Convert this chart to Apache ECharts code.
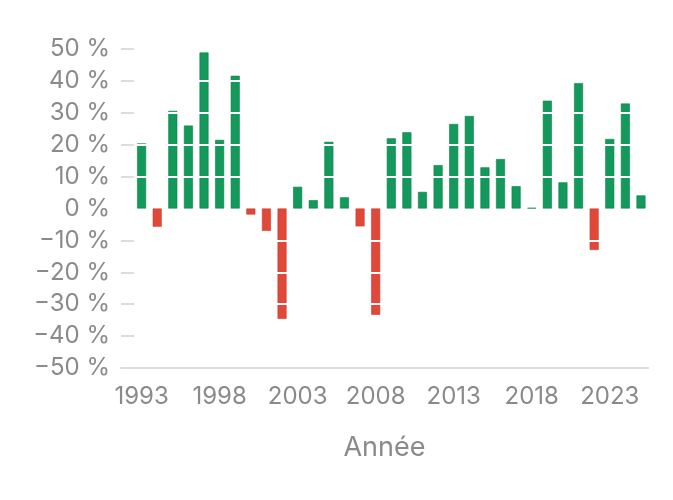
<!DOCTYPE html>
<html>
<head>
<meta charset="utf-8">
<script src="https://cdn.jsdelivr.net/npm/echarts@6/dist/echarts.min.js"></script>
<style>html,body{margin:0;padding:0;background:#fff}#c{width:673px;height:500px}</style>
</head>
<body>
<div id="c"></div>
<script>
const years = [1993,1994,1995,1996,1997,1998,1999,2000,2001,2002,2003,2004,2005,2006,2007,2008,2009,2010,2011,2012,2013,2014,2015,2016,2017,2018,2019,2020,2021,2022,2023,2024,2025];
const returns = [20.4,-5.7,30.6,26.0,48.9,21.5,41.6,-1.9,-7.0,-34.6,6.8,2.6,20.9,3.5,-5.6,-33.3,22.0,23.9,5.2,13.6,26.5,29.0,12.9,15.5,7.0,0.2,33.8,8.2,39.3,-13.0,21.8,32.9,4.1];
const xTickLabels = [1993,1998,2003,2008,2013,2018,2023];
const yTicks = [-40,-30,-20,-10,10,20,30,40,50];

const GREEN = '#13995b', GREEN_B = '#0f8048';
const RED = '#e0483a', RED_B = '#c73d30';
const FONT = 'Inter';
const GREY = '#8a8a8a';

const chart = echarts.init(document.getElementById('c'), null, {renderer:'canvas'});
chart.setOption({
  animation: false,
  grid: {left: 121, right: 25, top: 49, bottom: 132, containLabel: false},
  xAxis: {
    type: 'value',
    min: 1991.68, max: 2025.45,
    z: 12,
    name: 'Année',
    nameLocation: 'middle',
    nameGap: 66,
    nameTextStyle: {fontFamily: FONT, fontSize: 27, color: GREY},
    axisLine: {show: true, onZero: false, lineStyle: {color: '#dcdcdc', width: 2}},
    axisTick: {show: false},
    splitLine: {show: false},
    axisLabel: {
      customValues: xTickLabels,
      fontFamily: FONT, fontSize: 24, color: GREY, margin: 17,
      formatter: v => String(v)
    }
  },
  yAxis: {
    type: 'value',
    min: -50, max: 50, interval: 10,
    z: 10,
    axisLine: {show: false},
    axisTick: {show: true, inside: true, length: 13, customValues: yTicks, lineStyle: {color: '#dcdcdc', width: 2}},
    splitLine: {show: true, lineStyle: {color: '#ffffff', width: 2}},
    axisLabel: {
      fontFamily: FONT, fontSize: 24, color: GREY, margin: 11,
      formatter: v => (v < 0 ? '\u2212' + Math.abs(v) : String(v)) + '\u00a0%'
    }
  },
  series: [{
    type: 'bar',
    data: years.map((y, i) => ({
      value: [y, returns[i]],
      itemStyle: {
        color: returns[i] >= 0 ? GREEN : RED,
        borderColor: returns[i] >= 0 ? GREEN_B : RED_B,
        borderWidth: 0.6
      }
    })),
    barWidth: 9,
    z: 2
  }]
});
</script>
</body>
</html>
